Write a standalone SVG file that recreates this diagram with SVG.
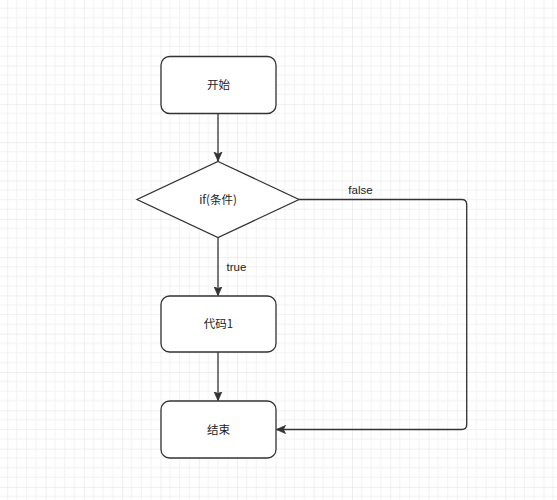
<svg xmlns="http://www.w3.org/2000/svg" width="557" height="500" viewBox="0 0 557 500">
  <style>
    .node { fill: #ffffff; stroke: #333333; stroke-width: 1.3; }
    .edge { fill: none; stroke: #333333; stroke-width: 1.3; }
    .label { font-family: "Noto Sans CJK SC", "Liberation Sans", sans-serif; font-size: 11.5px; fill: #222222; text-anchor: middle; }
    .elabel { font-family: "Liberation Sans", "Noto Sans CJK SC", sans-serif; font-size: 11.5px; fill: #222222; text-anchor: middle; }
  </style>
  <defs>
    <pattern id="grid" x="7.3" y="27.3" width="38.3" height="38.3" patternUnits="userSpaceOnUse">
      <path d="M9.575 0V38.3M19.15 0V38.3M28.725 0V38.3M0 9.575H38.3M0 19.15H38.3M0 28.725H38.3" stroke="#f2f2f2" stroke-width="1" fill="none"/>
      <path d="M0 0V38.3M0 0H38.3" stroke="#e0e0e0" stroke-width="1" fill="none"/>
    </pattern>
    <marker id="arrow" markerWidth="10" markerHeight="10" refX="9" refY="5" orient="auto" markerUnits="userSpaceOnUse" viewBox="0 0 10 10">
      <path d="M0 1 L9 5 L0 9 L2.2 5 Z" fill="#333333" stroke="#333333" stroke-width="0.8" stroke-linejoin="miter"/>
    </marker>
  </defs>
  <rect width="557" height="500" fill="#ffffff"/>
  <rect width="557" height="500" fill="url(#grid)"/>

  <g id="connectors">
    <path class="edge" d="M218 113.5 V161" marker-end="url(#arrow)"/>
    <path class="edge" d="M218 237.5 V295.5" marker-end="url(#arrow)"/>
    <path class="edge" d="M218 351.5 V400.5" marker-end="url(#arrow)"/>
    <path class="edge" d="M299 199.5 H461.7 Q466.7 199.5 466.7 204.5 V424.5 Q466.7 429.5 461.7 429.5 H276.5" marker-end="url(#arrow)"/>
    <text class="elabel" x="236.5" y="271">true</text>
    <text class="elabel" x="360.5" y="194">false</text>
  </g>

  <g id="start">
    <rect class="node" x="161" y="56.5" width="115" height="57" rx="8.6" ry="8.6"/>
    <text class="label" x="218.5" y="89">开始</text>
  </g>
  <g id="condition">
    <polygon class="node" points="218,161.5 299,199.5 218,237.5 137,199.5"/>
    <text class="label" x="218" y="203.5">if(条件)</text>
  </g>
  <g id="code1">
    <rect class="node" x="161" y="296" width="115" height="56" rx="8.6" ry="8.6"/>
    <text class="label" x="218.5" y="328">代码1</text>
  </g>
  <g id="end">
    <rect class="node" x="161" y="401" width="115" height="57" rx="8.6" ry="8.6"/>
    <text class="label" x="218.5" y="433.5">结束</text>
  </g>
</svg>
